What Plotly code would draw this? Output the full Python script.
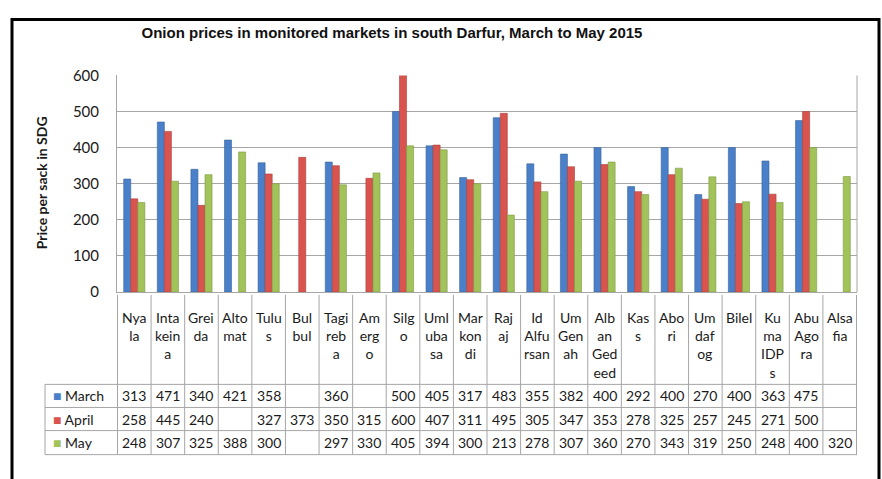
import plotly.graph_objects as go

W, H = 882, 479

categories = ["Nyala", "Intakeina", "Greida", "Altomat", "Tulus", "Bulbul", "Tagireba", "Amergo",
              "Silgo", "Umlubasa", "Markondi", "Rajaj", "Id Alfursan", "Um Genah", "Alban Gedeed",
              "Kass", "Abori", "Umdafog", "Bilel", "Kuma IDPs", "Abu Agora", "Alsafia"]
header_labels = [["Nya", "la"], ["Inta", "kein", "a"], ["Grei", "da"], ["Alto", "mat"], ["Tulu", "s"],
                 ["Bul", "bul"], ["Tagi", "reb", "a"], ["Am", "erg", "o"], ["Silg", "o"], ["Uml", "uba", "sa"],
                 ["Mar", "kon", "di"], ["Raj", "aj"], ["Id", "Alfu", "rsan"], ["Um", "Gen", "ah"],
                 ["Alb", "an", "Ged", "eed"], ["Kas", "s"], ["Abo", "ri"], ["Um", "daf", "og"], ["Bilel"],
                 ["Ku", "ma", "IDP", "s"], ["Abu", "Ago", "ra"], ["Alsa", "fia"]]
march = [313, 471, 340, 421, 358, None, 360, None, 500, 405, 317, 483, 355, 382, 400, 292, 400, 270, 400, 363, 475, None]
april = [258, 445, 240, None, 327, 373, 350, 315, 600, 407, 311, 495, 305, 347, 353, 278, 325, 257, 245, 271, 500, None]
may = [248, 307, 325, 388, 300, None, 297, 330, 405, 394, 300, 213, 278, 307, 360, 270, 343, 319, 250, 248, 400, 320]
series_names = ["March", "April", "May"]
series_values = [march, april, may]
colors = ["#4A7FC9", "#D9544E", "#A2C25A"]
line_colors = ["#3A6598", "#A83F3B", "#7E9A45"]
y_ticks = [0, 100, 200, 300, 400, 500, 600]

def px_x(p):
    return p / W

def px_y(p):
    return 1 - p / H

plot_left, plot_right = 117, 857
plot_top, plot_bottom = 68, 293

fig = go.Figure()
for name, vals, c, lc in zip(series_names, series_values, colors, line_colors):
    fig.add_trace(go.Bar(x=categories, y=vals, name=name, marker=dict(color=c, line=dict(color=lc, width=0.6)),
                         showlegend=False))

TABLE_FONT = "Lato, 'Open Sans', sans-serif"
grid_col = "#A6A6A6"
shapes = []
annotations = []

header_top = 296
row_lines = [389, 413, 437, 462]
legend_left = 45

n = len(categories)
for i in range(n + 1):
    shapes.append(dict(type="line", xref="x", yref="paper", x0=i - 0.5, x1=i - 0.5,
                       y0=px_y(row_lines[-1]), y1=px_y(header_top), line=dict(color=grid_col, width=1)))
shapes.append(dict(type="line", xref="paper", yref="paper", x0=px_x(legend_left), x1=px_x(legend_left),
                   y0=px_y(row_lines[-1]), y1=px_y(row_lines[0]), line=dict(color=grid_col, width=1)))
for r in row_lines:
    shapes.append(dict(type="line", xref="paper", yref="paper", x0=px_x(legend_left), x1=px_x(plot_right),
                       y0=px_y(r), y1=px_y(r), line=dict(color=grid_col, width=1)))
for cat, lab in zip(categories, header_labels):
    annotations.append(dict(xref="x", yref="paper", x=cat, y=px_y(header_top + 13), yanchor="top",
                            text="<br>".join(lab), showarrow=False,
                            font=dict(family=TABLE_FONT, size=14, color="#1a1a1a")))
for k, (name, vals, c) in enumerate(zip(series_names, series_values, colors)):
    yc = (row_lines[k] + row_lines[k + 1]) / 2
    for cat, v in zip(categories, vals):
        if v is None:
            continue
        annotations.append(dict(xref="x", yref="paper", x=cat, y=px_y(yc), yanchor="middle",
                                text=str(v), showarrow=False,
                                font=dict(family=TABLE_FONT, size=14, color="#1a1a1a")))
    annotations.append(dict(xref="paper", yref="paper", x=px_x(legend_left + 6), y=px_y(yc), xanchor="left",
                            yanchor="middle",
                            text=f'<span style="color:{c}">■</span> {name}', showarrow=False,
                            font=dict(family=TABLE_FONT, size=14, color="#1a1a1a")))

annotations.append(dict(xref="paper", yref="paper", x=px_x(41), y=px_y(180), xanchor="center",
                        yanchor="middle",
                        text="<b>Price per sack in SDG</b>", textangle=-90, showarrow=False,
                        font=dict(family=TABLE_FONT, size=14, color="#1a1a1a")))

shapes.append(dict(type="rect", xref="paper", yref="paper", x0=px_x(12), x1=px_x(879), y0=-0.05, y1=px_y(10),
                   line=dict(color="black", width=3)))
shapes.append(dict(type="line", xref="paper", yref="paper", x0=px_x(plot_right), x1=px_x(plot_right),
                   y0=px_y(plot_bottom), y1=px_y(plot_top), line=dict(color=grid_col, width=1)))

fig.update_layout(
    width=W, height=H,
    margin=dict(l=0, r=0, t=0, b=0),
    paper_bgcolor="white", plot_bgcolor="white",
    barmode="group", bargap=0.37, bargroupgap=0.0,
    title=dict(text="<b>Onion prices in monitored markets in south Darfur, March to May 2015</b>",
               x=392 / W, xanchor="center", y=px_y(33), yanchor="middle",
               font=dict(family="'Liberation Sans Narrow', 'Arial Narrow', 'Liberation Sans', Arial", size=15,
                         color="#111")),
    xaxis=dict(domain=[px_x(plot_left), px_x(plot_right)], showticklabels=False, showgrid=False,
               showline=True, linecolor=grid_col, ticks="", categoryorder="array", categoryarray=categories),
    yaxis=dict(domain=[px_y(plot_bottom), px_y(plot_top)], range=[0, 600], tickvals=y_ticks,
               showgrid=True, gridcolor=grid_col, gridwidth=1, showline=True, linecolor=grid_col,
               zeroline=False, ticks="", ticklabelstandoff=14,
               tickfont=dict(family=TABLE_FONT, size=15, color="#1a1a1a")),
    shapes=shapes, annotations=annotations,
)

fig.write_html("out.html", config={"displayModeBar": False},
               post_script="document.body.style.margin='0px'; document.body.style.overflow='hidden';")
